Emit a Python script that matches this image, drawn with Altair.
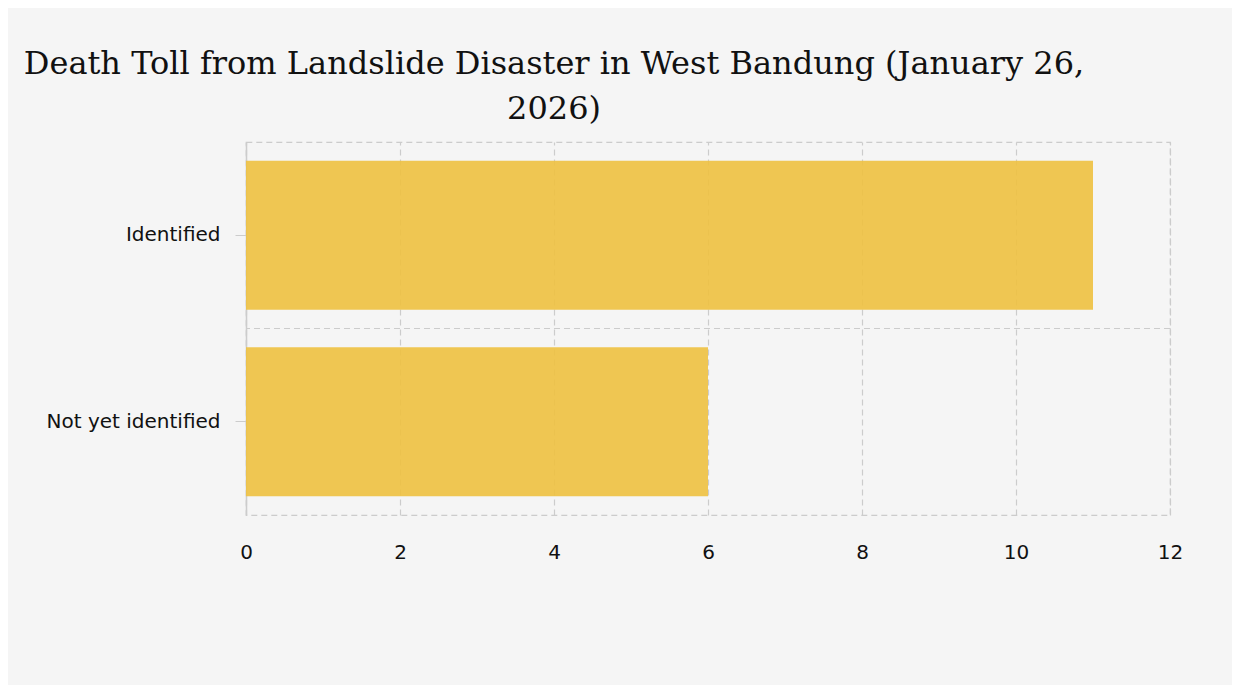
import altair as alt
import pandas as pd

categories = ["Identified", "Not yet identified"]
values = [11, 6]
x_ticks = [0, 2, 4, 6, 8, 10, 12]
title_lines = ["Death Toll from Landslide Disaster in West Bandung (January 26,", "2026)"]

df = pd.DataFrame({"status": categories, "count": values})
sep_df = pd.DataFrame({"status": categories[1:]})

bg = "#f5f5f5"
bar_color = "#eec140"
grid_color = "#cccccc"
font = "DejaVu Sans"

y_scale = alt.Scale(domain=categories, paddingInner=0.2, paddingOuter=0.1)
sep_scale = alt.Scale(domain=categories, paddingInner=0, paddingOuter=0)
x_scale = alt.Scale(domain=[0, 12], nice=False)

bars = alt.Chart(df).mark_bar(color=bar_color, opacity=0.9).encode(
    x=alt.X("count:Q", scale=x_scale, title=None,
            axis=alt.Axis(values=x_ticks, grid=True, gridDash=[6, 4], gridColor=grid_color,
                          gridWidth=1.2, ticks=False, tickSize=0, domain=False,
                          labelFlush=False, labelPadding=27, labelFontSize=20,
                          labelColor="#111111", labelFont=font, zindex=0)),
    y=alt.Y("status:N", scale=y_scale, sort=categories, title=None,
            axis=alt.Axis(grid=False, ticks=True, tickSize=11, tickColor=grid_color,
                          domain=True, domainColor=grid_color, domainWidth=1.5,
                          labelPadding=15, labelFontSize=20, labelColor="#111111",
                          labelFont=font)),
)

separator = alt.Chart(sep_df).mark_rule(
    color=grid_color, strokeDash=[6, 4], strokeWidth=1.2
).encode(
    y=alt.Y("status:N", scale=sep_scale, sort=categories, bandPosition=0, axis=None),
)

chart = alt.layer(separator, bars).resolve_scale(y="independent").properties(
    width=924,
    height=373,
    autosize=alt.AutoSizeParams(type="none"),
    padding={"left": 238, "top": 134, "right": 62, "bottom": 170},
    background=bg,
    title=alt.TitleParams(
        text=title_lines,
        font="DejaVu Serif",
        fontSize=32,
        fontWeight="normal",
        color="#111111",
        anchor="start",
        frame="group",
        align="center",
        dx=308,
        offset=16,
        lineHeight=45,
    ),
).configure_view(stroke=grid_color, strokeDash=[6, 4], strokeWidth=1.2)

chart.save("out.html", embed_options={"renderer": "svg", "actions": False})
